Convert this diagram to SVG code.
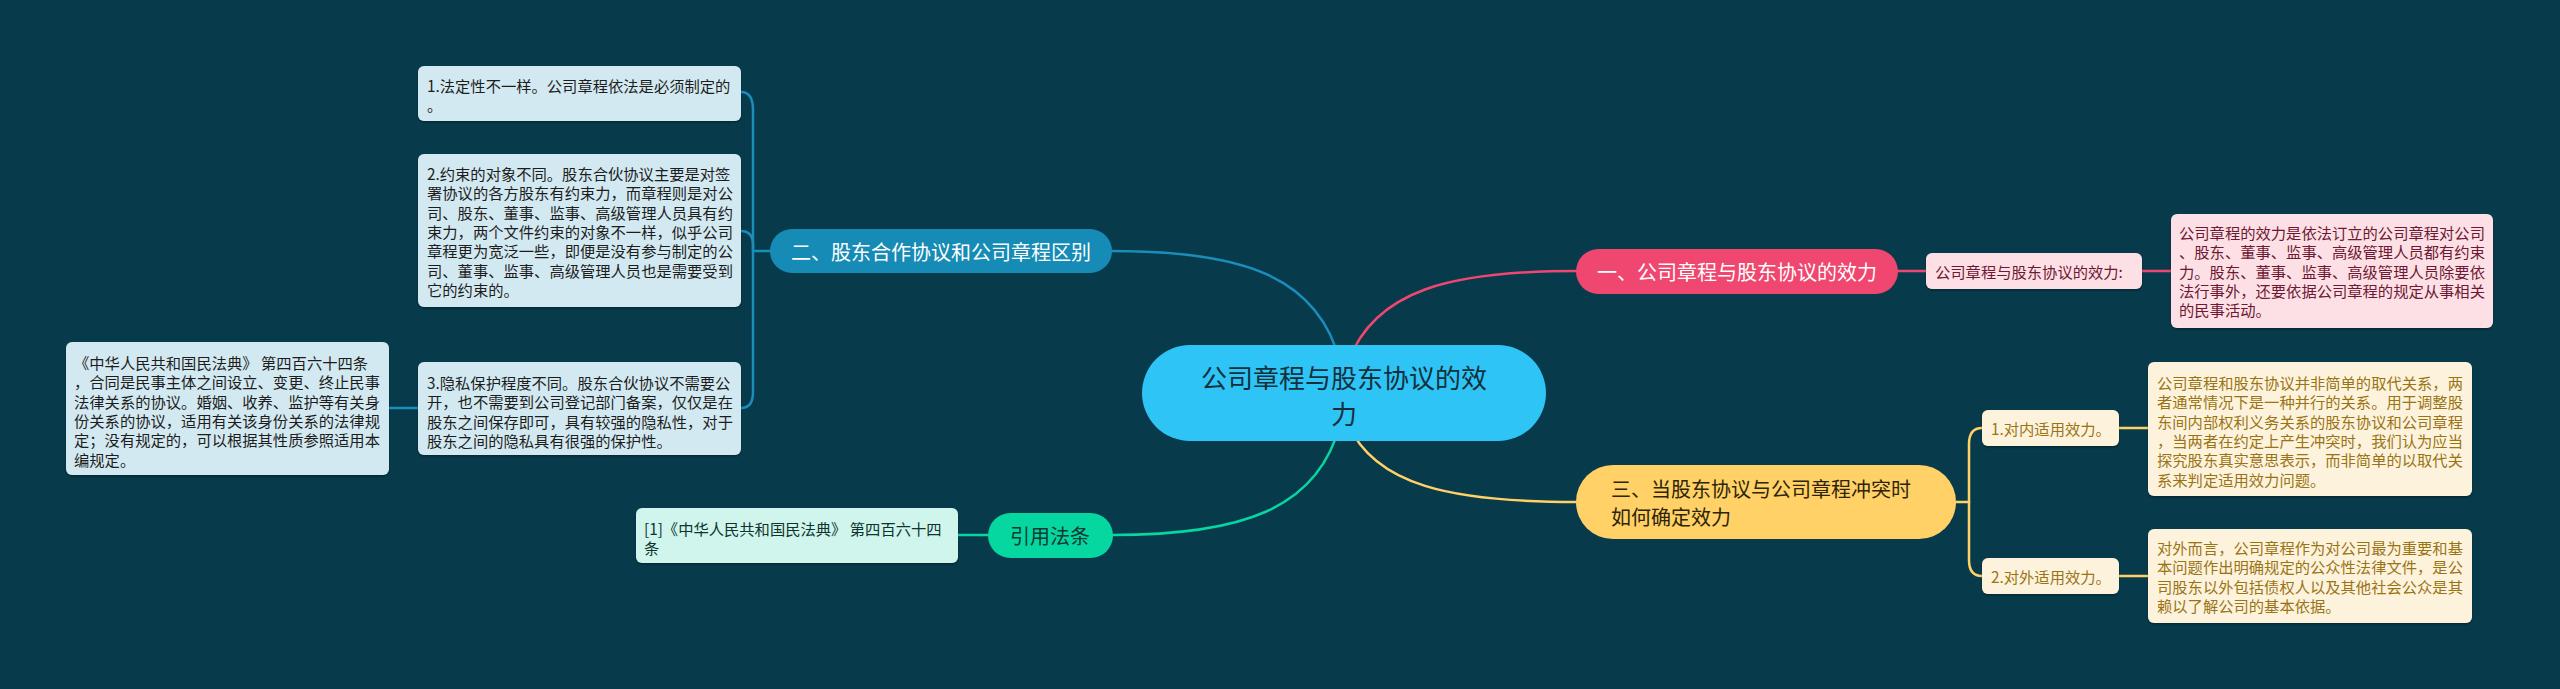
<svg xmlns="http://www.w3.org/2000/svg" width="2560" height="689" viewBox="0 0 2560 689">
<style>
text{font-family:"Noto Sans CJK SC","Noto Sans",sans-serif;dominant-baseline:central}
.t{font-size:15.3px}
.main{font-size:20px}
.lb rect{fill:#d3e9f1}
.lb text{fill:#1d1d1d}
.pk rect{fill:#fde0e6}
.pk text{fill:#6e1833}
.yl rect{fill:#fdf3dd}
.yl text{fill:#9a7314}
.gr rect{fill:#cff5ec}
.gr text{fill:#10332c}
.c{fill:none;stroke-width:2.5;stroke-linecap:round}
.cb{stroke:#1a8dba}
.cp{stroke:#ef476f}
.cy{stroke:#ffd166}
.cg{stroke:#06d6a0}
.sh{filter:url(#s)}
</style>
<defs>
<filter id="s" x="-5%" y="-10%" width="110%" height="130%"><feDropShadow dx="0" dy="1.5" stdDeviation="1" flood-color="#000" flood-opacity="0.35"/></filter>
</defs>
<rect width="2560" height="689" fill="#073b4c"/>
<g id="connectors">
<path class="c cb" d="M1340 362 C1318 275 1240 251 1112 251"/>
<path class="c cp" d="M1348 362 C1375 290 1450 271 1577 271"/>
<path class="c cg" d="M1340 424 C1318 510 1240 535 1112 535"/>
<path class="c cy" d="M1348 424 C1375 485 1450 502 1577 502"/>
<path class="c cb" d="M770 251 H753"/>
<path class="c cb" d="M753 251 V110 Q753 92 741 92"/>
<path class="c cb" d="M753 251 V245 Q753 231 741 231"/>
<path class="c cb" d="M753 251 V392 Q753 408 741 408"/>
<path class="c cb" d="M418 408 H389"/>
<path class="c cg" d="M988 535 H958"/>
<path class="c cp" d="M1898 271 H1926"/>
<path class="c cp" d="M2142 271 H2171"/>
<path class="c cy" d="M1956 502 H1969"/>
<path class="c cy" d="M1969 502 V444 Q1969 428 1982 428"/>
<path class="c cy" d="M1969 502 V560 Q1969 576 1982 576"/>
<path class="c cy" d="M2119 428 H2148"/>
<path class="c cy" d="M2119 576 H2148"/>
</g>
<g id="center">
<rect x="1142" y="345" width="404" height="96" rx="48" fill="#2ec4f5"/>
<text x="1344" y="376" text-anchor="middle" font-size="26" fill="#14303b">公司章程与股东协议的效</text>
<text x="1344" y="412" text-anchor="middle" font-size="26" fill="#14303b">力</text>
</g>
<g id="n2">
<rect x="770" y="229" width="342" height="44" rx="22" fill="#168bb5"/>
<text class="main" x="941" y="251" text-anchor="middle" fill="#ffffff">二、股东合作协议和公司章程区别</text>
</g>
<g id="n2a" class="lb">
<rect class="sh" x="418" y="66" width="323" height="55" rx="6"/>
<text class="t" x="427" y="85">1.法定性不一样。公司章程依法是必须制定的</text>
<text class="t" x="427" y="104.3">。</text>
</g>
<g id="n2b" class="lb">
<rect class="sh" x="418" y="154" width="323" height="153" rx="6"/>
<text class="t" x="427" y="173">2.约束的对象不同。股东合伙协议主要是对签</text>
<text class="t" x="427" y="192.3">署协议的各方股东有约束力，而章程则是对公</text>
<text class="t" x="427" y="211.6">司、股东、董事、监事、高级管理人员具有约</text>
<text class="t" x="427" y="230.9">束力，两个文件约束的对象不一样，似乎公司</text>
<text class="t" x="427" y="250.2">章程更为宽泛一些，即便是没有参与制定的公</text>
<text class="t" x="427" y="269.5">司、董事、监事、高级管理人员也是需要受到</text>
<text class="t" x="427" y="288.8">它的约束的。</text>
</g>
<g id="n2c" class="lb">
<rect class="sh" x="418" y="362" width="323" height="93" rx="6"/>
<text class="t" x="427" y="382">3.隐私保护程度不同。股东合伙协议不需要公</text>
<text class="t" x="427" y="401.3">开，也不需要到公司登记部门备案，仅仅是在</text>
<text class="t" x="427" y="420.6">股东之间保存即可，具有较强的隐私性，对于</text>
<text class="t" x="427" y="439.9">股东之间的隐私具有很强的保护性。</text>
</g>
<g id="n2c1" class="lb">
<rect class="sh" x="66" y="342" width="323" height="133" rx="6"/>
<text class="t" x="74" y="362">《中华人民共和国民法典》 第四百六十四条</text>
<text class="t" x="74" y="381.3">，合同是民事主体之间设立、变更、终止民事</text>
<text class="t" x="74" y="400.6">法律关系的协议。婚姻、收养、监护等有关身</text>
<text class="t" x="74" y="419.9">份关系的协议，适用有关该身份关系的法律规</text>
<text class="t" x="74" y="439.2">定；没有规定的，可以根据其性质参照适用本</text>
<text class="t" x="74" y="458.5">编规定。</text>
</g>
<g id="n4">
<rect x="988" y="513" width="125" height="45" rx="22.5" fill="#06d6a0"/>
<text class="main" x="1050" y="535" text-anchor="middle" fill="#0e3a33">引用法条</text>
</g>
<g id="n4a" class="gr">
<rect class="sh" x="636" y="508" width="322" height="55" rx="6"/>
<text class="t" x="644" y="528">[1]《中华人民共和国民法典》 第四百六十四</text>
<text class="t" x="644" y="547.3">条</text>
</g>
<g id="n1">
<rect x="1576" y="249" width="322" height="45" rx="22.5" fill="#ef476f"/>
<text class="main" x="1737" y="271" text-anchor="middle" fill="#ffffff">一、公司章程与股东协议的效力</text>
</g>
<g id="n1a" class="pk">
<rect class="sh" x="1926" y="253" width="216" height="36" rx="6"/>
<text class="t" x="1935" y="271">公司章程与股东协议的效力:</text>
</g>
<g id="n1b" class="pk">
<rect class="sh" x="2171" y="214" width="322" height="114" rx="6"/>
<text class="t" x="2179" y="232">公司章程的效力是依法订立的公司章程对公司</text>
<text class="t" x="2179" y="251.3">、股东、董事、监事、高级管理人员都有约束</text>
<text class="t" x="2179" y="270.6">力。股东、董事、监事、高级管理人员除要依</text>
<text class="t" x="2179" y="289.9">法行事外，还要依据公司章程的规定从事相关</text>
<text class="t" x="2179" y="309.2">的民事活动。</text>
</g>
<g id="n3">
<rect x="1576" y="465" width="380" height="74" rx="37" fill="#ffd166"/>
<text class="main" x="1611" y="488" fill="#2e2408">三、当股东协议与公司章程冲突时</text>
<text class="main" x="1611" y="516" fill="#2e2408">如何确定效力</text>
</g>
<g id="n3a" class="yl">
<rect class="sh" x="1982" y="410" width="137" height="36" rx="6"/>
<text class="t" x="1991" y="428">1.对内适用效力。</text>
</g>
<g id="n3b" class="yl">
<rect class="sh" x="1982" y="558" width="137" height="36" rx="6"/>
<text class="t" x="1991" y="576">2.对外适用效力。</text>
</g>
<g id="n3a1" class="yl">
<rect class="sh" x="2148" y="362" width="324" height="134" rx="6"/>
<text class="t" x="2157" y="382">公司章程和股东协议并非简单的取代关系，两</text>
<text class="t" x="2157" y="401.3">者通常情况下是一种并行的关系。用于调整股</text>
<text class="t" x="2157" y="420.6">东间内部权利义务关系的股东协议和公司章程</text>
<text class="t" x="2157" y="439.9">，当两者在约定上产生冲突时，我们认为应当</text>
<text class="t" x="2157" y="459.2">探究股东真实意思表示，而非简单的以取代关</text>
<text class="t" x="2157" y="478.5">系来判定适用效力问题。</text>
</g>
<g id="n3b1" class="yl">
<rect class="sh" x="2148" y="529" width="324" height="94" rx="6"/>
<text class="t" x="2157" y="547">对外而言，公司章程作为对公司最为重要和基</text>
<text class="t" x="2157" y="566.3">本问题作出明确规定的公众性法律文件，是公</text>
<text class="t" x="2157" y="585.6">司股东以外包括债权人以及其他社会公众是其</text>
<text class="t" x="2157" y="604.9">赖以了解公司的基本依据。</text>
</g>
</svg>
